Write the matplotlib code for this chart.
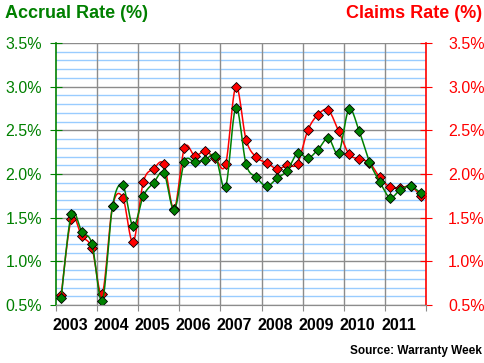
import numpy as np
import matplotlib
matplotlib.use("Agg")
import matplotlib.pyplot as plt
from matplotlib.ticker import MultipleLocator, FuncFormatter

plt.rcParams['font.family'] = ['Liberation Sans', 'DejaVu Sans']

YEARS = list(range(2003, 2012))
# quarterly values, 2003 Q1 .. 2011 Q4
accrual = [0.58, 1.54, 1.34, 1.20, 0.55, 1.63, 1.87, 1.40,
           1.75, 1.90, 2.01, 1.59, 2.14, 2.14, 2.16, 2.21,
           1.85, 2.76, 2.11, 1.96, 1.86, 1.95, 2.04, 2.24,
           2.18, 2.28, 2.41, 2.24, 2.74, 2.49, 2.14, 1.91,
           1.73, 1.82, 1.86, 1.78]
claims = [0.61, 1.49, 1.29, 1.15, 0.63, 1.63, 1.73, 1.22,
          1.91, 2.06, 2.11, 1.60, 2.30, 2.21, 2.26, 2.18,
          2.11, 3.00, 2.39, 2.19, 2.13, 2.06, 2.10, 2.12,
          2.50, 2.68, 2.73, 2.49, 2.23, 2.17, 2.13, 1.96,
          1.85, 1.84, 1.86, 1.75]

GREEN = '#008000'
RED = '#FF0000'
GRAY = '#8C8C8C'


def smooth(x, y, n=12):
    # catmull-rom style curve, like a spreadsheet's "smoothed line"
    x = np.asarray(x, float)
    y = np.asarray(y, float)
    px = np.concatenate([[x[0]], x, [x[-1]]])
    py = np.concatenate([[y[0]], y, [y[-1]]])
    xs, ys = [], []
    t = np.linspace(0, 1, n, endpoint=False)
    for i in range(1, len(px) - 2):
        for p, out in ((px, xs), (py, ys)):
            p0, p1, p2, p3 = p[i - 1], p[i], p[i + 1], p[i + 2]
            c1 = p1 + (p2 - p0) / 6
            c2 = p2 - (p3 - p1) / 6
            out.extend((1 - t) ** 3 * p1 + 3 * (1 - t) ** 2 * t * c1
                       + 3 * (1 - t) * t ** 2 * c2 + t ** 3 * p2)
    xs.append(x[-1])
    ys.append(y[-1])
    return np.array(xs), np.array(ys)


x = np.array([YEARS[0] + (i + 0.5) / 4 for i in range(len(accrual))])

fig = plt.figure(figsize=(4.85, 3.63), dpi=100)
ax = fig.add_axes([56 / 485, 1 - 305 / 363, 370 / 485, 262 / 363])
ax2 = ax.twinx()

ax.set_xlim(2003, 2012)
ax.set_ylim(0.5, 3.5)
ax2.set_ylim(0.5, 3.5)

# grid: light blue every 0.1, gray every 0.5, gray at each year boundary
ax.yaxis.set_major_locator(MultipleLocator(0.5))
ax.yaxis.set_minor_locator(MultipleLocator(0.1))
ax.grid(which='minor', axis='y', color='#99CCFF', lw=1)
ax.grid(which='major', axis='y', color=GRAY, lw=1)
for yr in range(2004, 2012):
    ax.axvline(yr, color=GRAY, lw=1, zorder=0.8)
ax.set_axisbelow(True)

ax.set_xticks(range(2003, 2013))
ax.set_xticklabels([])
ax.set_xticks([yr + 0.34 for yr in YEARS], minor=True)
ax.set_xticklabels([str(yr) for yr in YEARS], minor=True,
                   fontsize=11.5, fontweight='bold')
ax.tick_params(axis='x', which='major', length=4, color=GRAY, direction='out')
ax.tick_params(axis='x', which='minor', length=0, pad=9)

pct = FuncFormatter(lambda v, _: f"{v:.1f}%")
ax.yaxis.set_major_formatter(pct)
ax.tick_params(axis='y', which='major', direction='inout', length=8,
               color=GREEN, labelcolor=GREEN, labelsize=11.5, pad=6)
ax.tick_params(axis='y', which='minor', length=0)

ax2.yaxis.set_major_locator(MultipleLocator(0.5))
ax2.yaxis.set_major_formatter(pct)
ax2.tick_params(axis='y', which='major', direction='inout', length=8,
                color=RED, labelcolor=RED, labelsize=11.5, pad=12)
ax2.tick_params(axis='y', which='minor', length=0)

for a in (ax, ax2):
    a.spines['top'].set_visible(False)
    a.spines['bottom'].set_color(GRAY)
ax.spines['left'].set_color(GREEN)
ax.spines['left'].set_linewidth(1.2)
ax.spines['right'].set_visible(False)
ax2.spines['left'].set_visible(False)
ax2.spines['right'].set_color(RED)
ax2.spines['right'].set_linewidth(1.2)

sx, sy = smooth(x, claims)
ax.plot(sx, sy, color=RED, lw=1.1, zorder=3)
ax.plot(x, claims, ls='none', marker='D', ms=4.8, mfc=RED, mec='black',
        mew=0.6, zorder=4)
sx, sy = smooth(x, accrual)
ax.plot(sx, sy, color=GREEN, lw=1.1, zorder=5)
ax.plot(x, accrual, ls='none', marker='D', ms=4.8, mfc=GREEN, mec='black',
        mew=0.6, zorder=6)

fig.text(5 / 485, 1 - 14 / 363, "Accrual Rate (%)", color=GREEN,
         fontsize=13, fontweight='bold', ha='left', va='center')
fig.text(482 / 485, 1 - 14 / 363, "Claims Rate (%)", color=RED,
         fontsize=13, fontweight='bold', ha='right', va='center')
fig.text(482 / 485, 1 - 351 / 363, "Source: Warranty Week", color='black',
         fontsize=8.5, fontweight='bold', ha='right', va='center')

fig.savefig("out.png", dpi=100)
